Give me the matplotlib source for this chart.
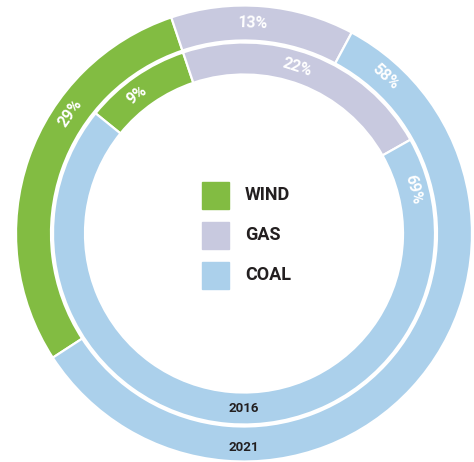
import matplotlib.pyplot as plt
import numpy as np

# Energy mix shares (%)
sources = ['WIND', 'GAS', 'COAL']
share_2016 = [9, 22, 69]
share_2021 = [29, 13, 58]
years = ['2016', '2021']

colors = ['#82bc42', '#c8c9df', '#abd0eb']
dark = '#231f20'
font = 'Roboto'

fig = plt.figure(figsize=(4.74, 4.62), dpi=100)
ax = fig.add_axes([0, 0, 1, 1])

cx, cy = 244, 228.5
wind_gas_edge = 108.6  # angle where wind meets gas, both rings


def ring(values, radius, width):
    start = wind_gas_edge + values[0] / 100 * 360
    wedges, _ = ax.pie(values, radius=radius, center=(cx, cy), startangle=start,
                       counterclock=False, colors=colors,
                       wedgeprops=dict(width=width, edgecolor='white', linewidth=1.6))
    return wedges


outer = ring(share_2021, 228, 35)
inner = ring(share_2016, 191, 32)


def put_labels(wedges, values, r, fracs):
    # fraction along each wedge (clockwise) where the label sits
    for w, v, f in zip(wedges, values, fracs):
        ang = w.theta2 - f * (w.theta2 - w.theta1)
        x = cx + r * np.cos(np.radians(ang))
        y = cy + r * np.sin(np.radians(ang))
        ax.text(x, y, f'{v}%', color='white', fontsize=11.5, fontweight='bold',
                family=font, rotation=ang - 90, ha='center', va='center',
                rotation_mode='anchor')


put_labels(outer, share_2021, 211, [0.65, 0.45, 0.066])
put_labels(inner, share_2016, 175, [0.41, 0.46, 0.06])

# year labels at the bottom of each ring
ax.text(cx, cy - 175, years[0], color=dark, fontsize=9.5, fontweight='bold',
        family=font, ha='center', va='center')
ax.text(cx, cy - 214, years[1], color=dark, fontsize=9.5, fontweight='bold',
        family=font, ha='center', va='center')

# legend in the middle
for i, (name, c) in enumerate(zip(sources, colors)):
    ytop = 462 - 182 - i * 40
    ax.add_patch(plt.Rectangle((202, ytop - 27), 27, 27, color=c))
    ax.text(245, ytop - 13.5, name, color=dark, fontsize=13, fontweight='bold',
            family=font, ha='left', va='center')

ax.set_xlim(0, 474)
ax.set_ylim(0, 462)
ax.set_aspect('equal')
ax.set_axis_off()

fig.savefig('out.png', dpi=100)
